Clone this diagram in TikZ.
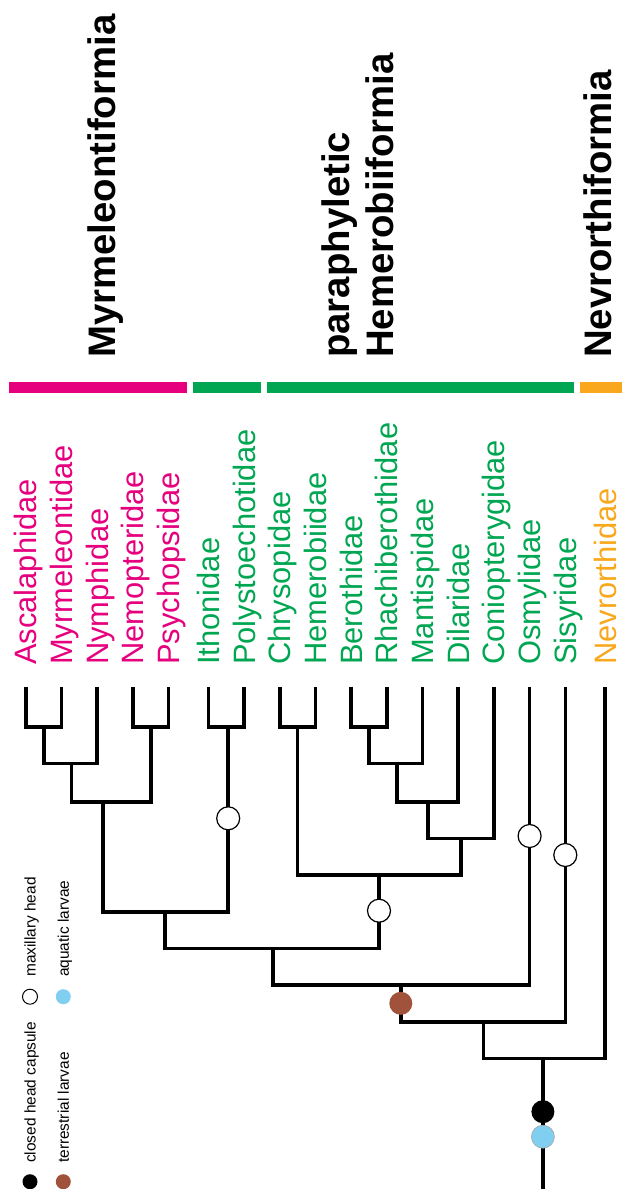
\documentclass[tikz,border=0pt]{standalone}
\usepackage{fontspec}
\setmainfont{Liberation Sans}
\usetikzlibrary{positioning}

\definecolor{myrmpink}{RGB}{230,0,126}
\definecolor{hemgreen}{RGB}{0,166,81}
\definecolor{nevorange}{RGB}{249,168,30}
\definecolor{terrbrown}{RGB}{160,82,58}
\definecolor{aquablue}{RGB}{128,207,240}

\begin{document}
\begin{tikzpicture}[
    x=1bp, y=-1bp,
    branch/.style={line width=3.6bp, line join=miter},
    taxon/.style={rotate=90, anchor=base west, inner sep=0pt, font=\fontsize{31}{36}\selectfont},
    clade/.style={rotate=90, anchor=base west, inner sep=0pt, font=\fontsize{38.5}{44}\selectfont\bfseries},
    trait/.style={circle, minimum size=23bp, inner sep=0pt},
    keytext/.style={rotate=90, anchor=base west, inner sep=0pt, font=\fontsize{15.5}{18}\selectfont},
    keydot/.style={circle, minimum size=15bp, inner sep=0pt}
]
    \useasboundingbox (0,0) rectangle (622,1189);

    % Clade names and bars
    \node[clade] (myrmclade) at (115,358) {Myrmeleontiformia};
    \node[clade] (paraclade) at (349,358) {paraphyletic};
    \node[clade] (hemclade) at (393,358) {Hemerobiiformia};
    \node[clade] (nevclade) at (611,358) {Nevrorthiformia};
    \fill[myrmpink] (8.7,382) rectangle (186.5,393);
    \fill[hemgreen] (192.5,382) rectangle (261,393);
    \fill[hemgreen] (266.7,382) rectangle (574.2,393);
    \fill[nevorange] (580,382) rectangle (622,393);

    % Families
    \node[taxon, myrmpink] (Lasc) at (36.8,665) {Ascalaphidae};
    \node[taxon, myrmpink] (Lmyr) at (72.5,665) {Myrmeleontidae};
    \node[taxon, myrmpink] (Lnym) at (108.2,665) {Nymphidae};
    \node[taxon, myrmpink] (Lnem) at (143.9,665) {Nemopteridae};
    \node[taxon, myrmpink] (Lpsy) at (179.6,665) {Psychopsidae};
    \node[taxon, hemgreen] (Lith) at (219.3,665) {Ithonidae};
    \node[taxon, hemgreen] (Lpol) at (255,665) {Polystoechotidae};
    \node[taxon, hemgreen] (Lchr) at (290.7,665) {Chrysopidae};
    \node[taxon, hemgreen] (Lhem) at (326.4,665) {Hemerobiidae};
    \node[taxon, hemgreen] (Lber) at (362.1,665) {Berothidae};
    \node[taxon, hemgreen] (Lrha) at (397.8,665) {Rhachiberothidae};
    \node[taxon, hemgreen] (Lman) at (433.5,665) {Mantispidae};
    \node[taxon, hemgreen] (Ldil) at (469.2,665) {Dilaridae};
    \node[taxon, hemgreen] (Lcon) at (504.9,665) {Coniopterygidae};
    \node[taxon, hemgreen] (Losm) at (540.6,665) {Osmylidae};
    \node[taxon, hemgreen] (Lsis) at (576.3,665) {Sisyridae};
    \node[taxon, nevorange] (Lnev) at (616,665) {Nevrorthidae};

    % Tips
    \coordinate (asc) at (25.8,686.7);
    \coordinate (myr) at (61.5,686.7);
    \coordinate (nym) at (97.2,686.7);
    \coordinate (nem) at (132.9,686.7);
    \coordinate (psy) at (168.6,686.7);
    \coordinate (ith) at (208.3,686.7);
    \coordinate (pol) at (244,686.7);
    \coordinate (chr) at (279.7,686.7);
    \coordinate (hem) at (315.4,686.7);
    \coordinate (ber) at (351.1,686.7);
    \coordinate (rha) at (386.8,686.7);
    \coordinate (man) at (422.5,686.7);
    \coordinate (dil) at (458.2,686.7);
    \coordinate (con) at (493.9,686.7);
    \coordinate (osm) at (529.6,686.7);
    \coordinate (sis) at (565.3,686.7);
    \coordinate (nev) at (605,686.7);

    % Splits
    \coordinate (n1) at (43.7,726.7);
    \coordinate (n2) at (71.4,763.3);
    \coordinate (n3) at (150.8,726.7);
    \coordinate (n4) at (103.2,801.7);
    \coordinate (n5) at (228.2,726.7);
    \coordinate (n6) at (164.7,911.7);
    \coordinate (n7) at (297.6,726.7);
    \coordinate (n8) at (369,726.7);
    \coordinate (n9) at (396.8,763.3);
    \coordinate (n10) at (427.8,801.7);
    \coordinate (n11) at (461.1,838.3);
    \coordinate (n12) at (379,875);
    \coordinate (n13) at (273,948.3);
    \coordinate (n14) at (400.8,985);
    \coordinate (n15) at (483.3,1021.7);
    \coordinate (n16) at (542.9,1058.3);
    \coordinate (rootend) at (542.9,1189);

    % Branches
    \draw[branch] (asc) |- (n1) -| (myr);
    \draw[branch] (n1) |- (n2) -| (nym);
    \draw[branch] (nem) |- (n3) -| (psy);
    \draw[branch] (n2) |- (n4) -| (n3);
    \draw[branch] (ith) |- (n5) -| (pol);
    \draw[branch] (n4) |- (n6) -| (n5);
    \draw[branch] (chr) |- (n7) -| (hem);
    \draw[branch] (ber) |- (n8) -| (rha);
    \draw[branch] (n8) |- (n9) -| (man);
    \draw[branch] (n9) |- (n10) -| (dil);
    \draw[branch] (n10) |- (n11) -| (con);
    \draw[branch] (n7) |- (n12) -| (n11);
    \draw[branch] (n6) |- (n13) -| (n12);
    \draw[branch] (n13) |- (n14) -| (osm);
    \draw[branch] (n14) |- (n15) -| (sis);
    \draw[branch] (n15) |- (n16) -| (nev);
    \draw[branch] (n16) -- (rootend);

    % Character states
    \node[trait, draw, line width=1.2bp, fill=white] (maxA) at (228.2,818.3) {};
    \node[trait, draw, line width=1.2bp, fill=white] (maxB) at (379,910.7) {};
    \node[trait, draw, line width=1.2bp, fill=white] (maxC) at (529.6,836) {};
    \node[trait, draw, line width=1.2bp, fill=white] (maxD) at (565.3,855) {};
    \node[trait, fill=terrbrown] (terr) at (400.8,1003.3) {};
    \node[trait, fill=black] (closed) at (542.9,1111.7) {};
    \node[trait, draw=gray!70, line width=0.6bp, fill=aquablue] (aqua) at (542.9,1136.7) {};

    % Legend
    \node[keydot, fill=black] (keyclosed) at (30,1181.7) {};
    \node[keydot, fill=terrbrown] (keyterr) at (63.3,1181.7) {};
    \node[keydot, draw, line width=1bp, fill=white] (keymax) at (30,996.7) {};
    \node[keydot, fill=aquablue] (keyaqua) at (63.3,996.7) {};
    \node[keytext] (txtclosed) at (35.5,1163) {closed head capsule};
    \node[keytext] (txtterr) at (68.8,1163) {terrestrial larvae};
    \node[keytext] (txtmax) at (35.5,977) {maxillary head};
    \node[keytext] (txtaqua) at (68.8,977) {aquatic larvae};
\end{tikzpicture}
\end{document}
